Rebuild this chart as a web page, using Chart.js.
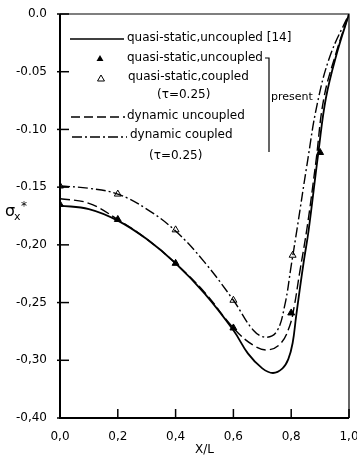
<!DOCTYPE html>
<html><head><meta charset="utf-8">
<script src="https://cdn.jsdelivr.net/npm/chart.js@4/dist/chart.umd.min.js"></script>
<style>html,body{margin:0;padding:0;background:#fff}canvas{display:block}</style>
</head><body>
<canvas id="c" width="357" height="473"></canvas>
<script>
// ---- tick labels & texts ----
const xTickLabels = ["0,0","0,2","0,4","0,6","0,8","1,0"];
const yTickLabels = ["0.0","-0.05","-0.10","-0.15","-0,20","-0,25","-0,30","-0,40"];
const legendLabels = ["quasi-static,uncoupled [14]","quasi-static,uncoupled","quasi-static,coupled","(τ=0.25)","dynamic uncoupled","dynamic coupled","(τ=0.25)"];
const presentLabel = "present";
const xAxisTitle = "X/L";

// ---- series ----
const quasiUncX = [0,0.1,0.2,0.3,0.4,0.5,0.6,0.65,0.7,0.737,0.77,0.79,0.805,0.817,0.83,0.845,0.86,0.894,0.92,0.958,1.0];
const quasiUncY = [-0.166,-0.169,-0.179,-0.195,-0.216,-0.242,-0.274,-0.294,-0.307,-0.311,-0.307,-0.299,-0.285,-0.262,-0.238,-0.212,-0.188,-0.120,-0.073,-0.034,0];

const dynUncX = [0,0.1,0.2,0.3,0.4,0.5,0.6,0.669,0.72,0.765,0.795,0.81,0.828,0.855,0.885,0.913,0.955,1.0];
const dynUncY = [-0.160,-0.164,-0.178,-0.195,-0.216,-0.241,-0.272,-0.287,-0.291,-0.285,-0.270,-0.254,-0.226,-0.185,-0.129,-0.073,-0.034,0];

const dynCoupX = [0,0.1,0.2,0.3,0.4,0.5,0.6,0.669,0.712,0.75,0.778,0.8,0.821,0.855,0.89,0.935,1.0];
const dynCoupY = [-0.149,-0.151,-0.156,-0.169,-0.188,-0.215,-0.248,-0.274,-0.280,-0.275,-0.252,-0.218,-0.185,-0.130,-0.078,-0.036,0];

const filledTriX = [0,0.2,0.4,0.6,0.8,0.9];
const filledTriY = [-0.165,-0.178,-0.216,-0.272,-0.259,-0.120];

const openTriX = [0,0.2,0.4,0.6,0.805];
const openTriY = [-0.149,-0.156,-0.187,-0.248,-0.209];

const pts = (xs, ys) => xs.map((x, i) => ({x, y: ys[i]}));

const FONT = "'DejaVu Sans', sans-serif";

const decor = {
  id: 'decor',
  afterDraw(chart) {
    const {ctx, chartArea: a, scales: {x, y}} = chart;
    ctx.save();
    ctx.strokeStyle = '#000'; ctx.fillStyle = '#000';
    ctx.setLineDash([]);
    // frame
    ctx.lineWidth = 1.2;
    ctx.beginPath(); ctx.moveTo(a.left, a.top); ctx.lineTo(a.right, a.top); ctx.lineTo(a.right, a.bottom); ctx.stroke();
    ctx.lineWidth = 2;
    ctx.beginPath(); ctx.moveTo(a.left, a.top); ctx.lineTo(a.left, a.bottom); ctx.lineTo(a.right, a.bottom); ctx.stroke();
    // inward ticks
    ctx.lineWidth = 1.5;
    y.ticks.forEach(t => { const p = y.getPixelForValue(t.value); ctx.beginPath(); ctx.moveTo(a.left - 3, p); ctx.lineTo(a.left + 9, p); ctx.stroke(); });
    x.ticks.forEach(t => { const p = x.getPixelForValue(t.value); ctx.beginPath(); ctx.moveTo(p, a.bottom); ctx.lineTo(p, a.bottom - 9); ctx.stroke(); });

    // y axis title  σx*
    ctx.textBaseline = 'alphabetic'; ctx.textAlign = 'left';
    ctx.font = "16px " + FONT; ctx.fillText("σ", 5, 216);
    ctx.font = "11px " + FONT; ctx.fillText("x", 14, 220);
    ctx.font = "12px " + FONT; ctx.fillText("*", 21, 210);

    // legend
    ctx.font = "12px " + FONT; ctx.textBaseline = 'middle';
    const line = (x1, x2, yy, dash) => { ctx.setLineDash(dash); ctx.lineWidth = 1.4; ctx.beginPath(); ctx.moveTo(x1, yy); ctx.lineTo(x2, yy); ctx.stroke(); ctx.setLineDash([]); };
    const tri = (cx, cy, r, filled) => {
      ctx.beginPath(); ctx.moveTo(cx, cy - r); ctx.lineTo(cx + r * 0.87, cy + r * 0.5); ctx.lineTo(cx - r * 0.87, cy + r * 0.5); ctx.closePath();
      if (filled) { ctx.fill(); } else { ctx.lineWidth = 1; ctx.stroke(); }
    };
    line(70, 124, 39, []);             ctx.fillText(legendLabels[0], 127, 38);
    tri(100, 59, 4, true);             ctx.fillText(legendLabels[1], 127, 58);
    tri(101, 79, 4, false);            ctx.fillText(legendLabels[2], 128, 77);
                                       ctx.fillText(legendLabels[3], 157, 95);
    line(71, 125, 117, [9, 4]);        ctx.fillText(legendLabels[4], 127, 116);
    line(72, 127, 137, [10, 3, 2, 3]); ctx.fillText(legendLabels[5], 130, 135);
                                       ctx.fillText(legendLabels[6], 149, 156);
    // bracket
    ctx.lineWidth = 1.2;
    ctx.beginPath(); ctx.moveTo(265, 58); ctx.lineTo(269, 58); ctx.lineTo(269, 152); ctx.stroke();
    ctx.font = "11px " + FONT;
    ctx.fillText(presentLabel, 271, 97);
    ctx.restore();
  }
};

new Chart(document.getElementById('c'), {
  type: 'scatter',
  data: {
    datasets: [
      {data: pts(quasiUncX, quasiUncY), showLine: true, borderColor: '#000', borderWidth: 1.8, pointRadius: 0, tension: 0.4, fill: false},
      {data: pts(dynUncX, dynUncY), showLine: true, borderColor: '#000', borderWidth: 1.4, borderDash: [10, 4], pointRadius: 0, tension: 0.4, fill: false},
      {data: pts(dynCoupX, dynCoupY), showLine: true, borderColor: '#000', borderWidth: 1.4, borderDash: [10, 3, 2, 3], pointRadius: 0, tension: 0.4, fill: false},
      {data: pts(filledTriX, filledTriY), showLine: false, pointStyle: 'triangle', pointRadius: 4, pointBackgroundColor: '#000', pointBorderColor: '#000', pointBorderWidth: 1},
      {data: pts(openTriX, openTriY), showLine: false, pointStyle: 'triangle', pointRadius: 4, pointBackgroundColor: '#fff', pointBorderColor: '#000', pointBorderWidth: 1}
    ]
  },
  options: {
    responsive: false, animation: false, devicePixelRatio: 1,
    layout: {padding: {top: 14, right: 8, left: 0, bottom: 0}},
    plugins: {legend: {display: false}, tooltip: {enabled: false}},
    scales: {
      x: {
        type: 'linear', min: 0, max: 1,
        ticks: {stepSize: 0.2, autoSkip: false, maxRotation: 0, padding: 4, color: '#000', font: {size: 12, family: FONT},
          callback: v => xTickLabels[Math.round(v / 0.2)]},
        grid: {display: false}, border: {display: false},
        title: {display: true, text: xAxisTitle, color: '#000', font: {size: 12, family: FONT}, padding: {top: 0, bottom: 16}},
        afterFit(s) { s.height = 55; s.paddingLeft = 0; s.paddingRight = 0; }
      },
      y: {
        type: 'linear', min: -0.35, max: 0,
        ticks: {stepSize: 0.05, autoSkip: false, padding: 5, color: '#000', font: {size: 12, family: FONT},
          callback: v => yTickLabels[Math.round(-v / 0.05)]},
        grid: {display: false}, border: {display: false},
        afterFit(s) { s.width = 60; s.paddingTop = 0; s.paddingBottom = 0; }
      }
    }
  },
  plugins: [decor]
});
</script>
</body></html>
